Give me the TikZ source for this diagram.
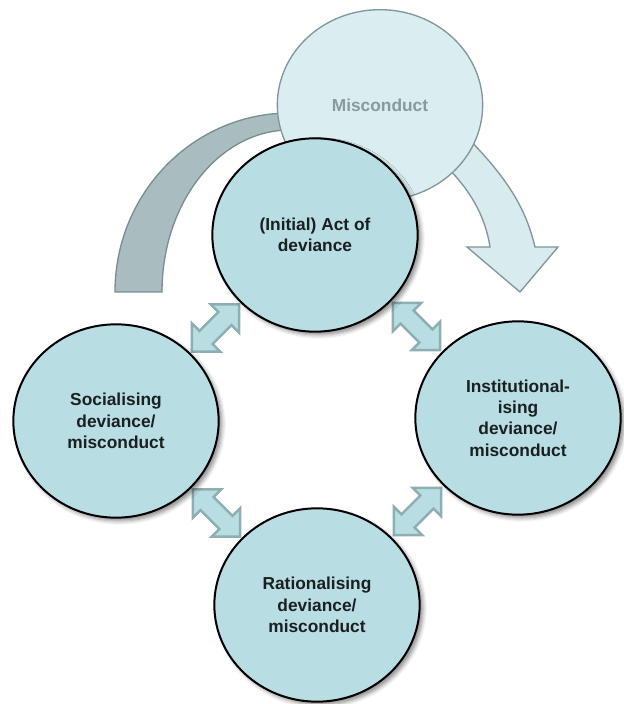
\documentclass[tikz,border=0pt]{standalone}
\usepackage{fontspec}
\setmainfont{Liberation Sans}
\usetikzlibrary{shapes.geometric,shapes.arrows,shadows.blur,calc,backgrounds}

\definecolor{circfill}{HTML}{B8DEE3}
\definecolor{miscfill}{HTML}{DAEDF0}
\definecolor{miscline}{HTML}{80979A}
\definecolor{misctext}{HTML}{8A9A9C}
\definecolor{arcfill}{HTML}{A9BDC0}
\definecolor{arcline}{HTML}{788E91}
\definecolor{outfill}{HTML}{D8EBEE}
\definecolor{dblline}{HTML}{8DAFB2}
\definecolor{txtdark}{HTML}{1A1F20}

\begin{document}
\begin{tikzpicture}[x=0.75pt,y=0.75pt,
  stage/.style={ellipse, draw=black, line width=1.5pt, fill=circfill,
    minimum width=154pt, minimum height=145pt, inner sep=0pt, align=center,
    font=\bfseries\fontsize{13}{16}\selectfont, text=txtdark,
    blur shadow={shadow xshift=2.5pt, shadow yshift=-2.5pt,
      shadow blur radius=3pt, shadow opacity=45}},
  outcome/.style={ellipse, draw=miscline, line width=1pt, fill=miscfill,
    minimum width=154pt, minimum height=143pt, inner sep=0pt,
    font=\bfseries\fontsize{13}{16}\selectfont, text=misctext},
  twoway/.style={double arrow, draw=dblline, line width=1.8pt, fill=circfill,
    double arrow tip angle=90, double arrow head extend=8pt,
    minimum width=30pt, minimum height=50pt, inner sep=6pt},
  ]
  \useasboundingbox (0,0) rectangle (624,704);

  % the stages
  \node[outcome] (MC) at (380,599) {Misconduct};
  \node[stage] (ACT) at (315,469) {(Initial) Act of\\deviance};
  \node[stage] (SOC) at (116,283) {Socialising\\deviance/\\misconduct};
  \node[stage] (INST) at (518,286) {Institutional-\\ising\\deviance/\\misconduct};
  \node[stage] (RAT) at (317,99) {Rationalising\\deviance/\\misconduct};

  \begin{scope}[on background layer]
    % feedback band and outcome arrow
    \draw[fill=arcfill, draw=arcline, line width=1pt]
      (115,412) arc[start angle=180, end angle=90, x radius=175, y radius=179]
      -- (290,574) arc[start angle=90, end angle=180, x radius=128, y radius=162]
      -- cycle;
    \draw[fill=outfill, draw=miscline, line width=1pt, line join=miter]
      (445,539) .. controls (470,514) and (485,489) .. (490,457)
      -- (467,457) -- (520,412) -- (558,457) -- (535,457)
      .. controls (525,499) and (505,529) .. (460,574) -- cycle;
    % links between the stages
    \node[twoway, rotate=45] (L1) at ($(SOC)!0.5!(ACT)$) {};
    \node[twoway, rotate=-45] (L2) at ($(ACT)!0.5!(INST)$) {};
    \node[twoway, rotate=-45] (L3) at ($(SOC)!0.5!(RAT)$) {};
    \node[twoway, rotate=45] (L4) at ($(INST)!0.5!(RAT)$) {};
  \end{scope}
\end{tikzpicture}
\end{document}
